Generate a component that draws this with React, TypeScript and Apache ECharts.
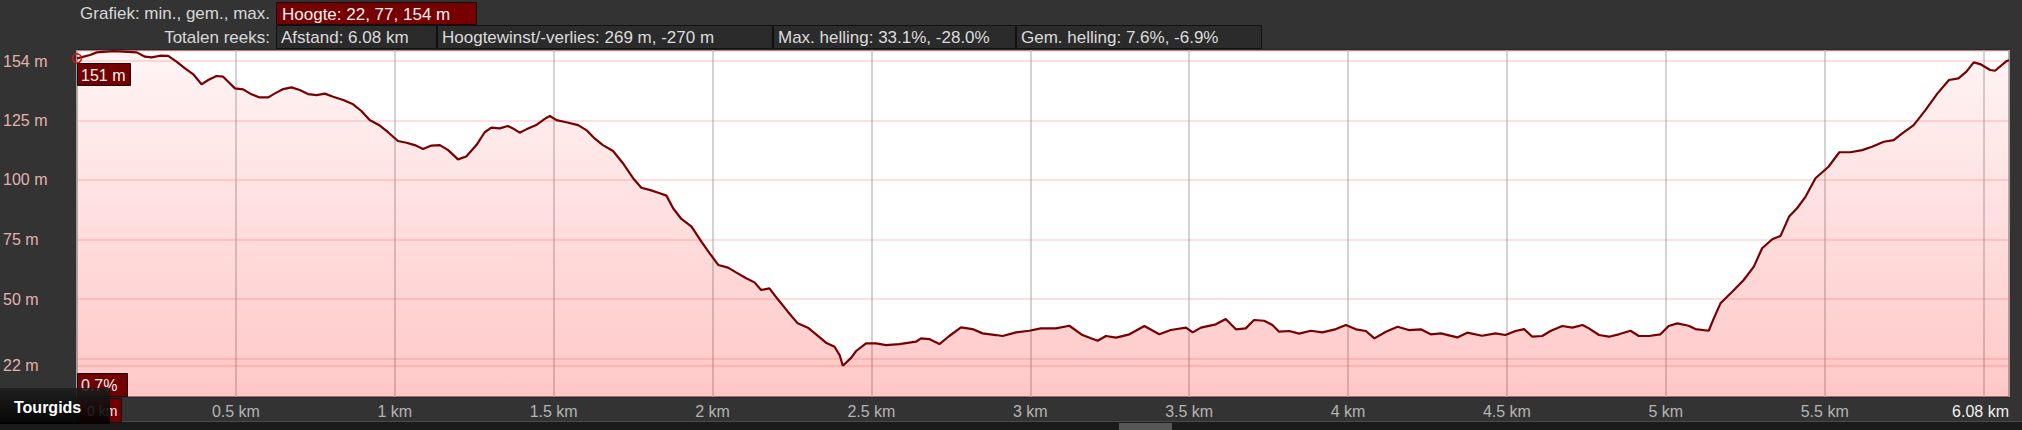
import React, { useEffect, useRef } from 'react';
import * as echarts from 'echarts';

// Distance along the route (km) and elevation (m)
const distKm = [
  0, 0.041, 0.062, 0.114, 0.146, 0.188, 0.214, 0.235, 0.261, 0.287, 0.313, 0.34, 0.366, 0.392, 0.413, 0.439, 0.46, 0.476, 0.497,
  0.523, 0.549, 0.575, 0.602, 0.623, 0.649, 0.675, 0.701, 0.727, 0.754, 0.78, 0.806, 0.838, 0.869, 0.895, 0.921, 0.953, 0.979,
  1.01, 1.037, 1.063, 1.089, 1.115, 1.142, 1.168, 1.199, 1.225, 1.257, 1.283, 1.304, 1.33, 1.356, 1.372, 1.393, 1.414, 1.445,
  1.472, 1.488, 1.509, 1.54, 1.577, 1.603, 1.629, 1.655, 1.687, 1.718, 1.75, 1.776, 1.802, 1.834, 1.855, 1.876, 1.902, 1.934,
  1.965, 1.991, 2.018, 2.049, 2.074, 2.106, 2.132, 2.153, 2.179, 2.205, 2.237, 2.268, 2.3, 2.326, 2.357, 2.384, 2.4, 2.41,
  2.436, 2.452, 2.483, 2.515, 2.546, 2.588, 2.64, 2.656, 2.682, 2.714, 2.745, 2.782, 2.818, 2.85, 2.892, 2.913, 2.955, 2.997,
  3.033, 3.081, 3.123, 3.164, 3.212, 3.238, 3.27, 3.312, 3.359, 3.406, 3.442, 3.49, 3.511, 3.537, 3.584, 3.615, 3.647, 3.678,
  3.704, 3.736, 3.762, 3.783, 3.815, 3.846, 3.883, 3.919, 3.962, 3.993, 4.025, 4.056, 4.083, 4.119, 4.156, 4.191, 4.229, 4.26,
  4.292, 4.344, 4.375, 4.422, 4.464, 4.495, 4.527, 4.554, 4.58, 4.611, 4.637, 4.674, 4.706, 4.738, 4.758, 4.79, 4.821, 4.852,
  4.889, 4.915, 4.947, 4.983, 5.009, 5.036, 5.072, 5.093, 5.135, 5.151, 5.172, 5.209, 5.245, 5.277, 5.303, 5.335, 5.361, 5.388,
  5.413, 5.44, 5.471, 5.512, 5.546, 5.581, 5.618, 5.649, 5.686, 5.717, 5.744, 5.78, 5.817, 5.855, 5.891, 5.921, 5.946, 5.969,
  5.989, 6.021, 6.036, 6.073, 6.08,
];
const elevM = [
  151, 152.4, 153.5, 154, 153.8, 153.5, 151.7, 151.4, 152.1, 152, 149.6, 146.8, 144.3, 140.1, 141.9, 143.6, 143.3, 141.2, 138.4,
  138, 135.9, 134.6, 134.6, 136.3, 138.1, 138.8, 137.7, 136, 135.6, 136.2, 134.9, 133.5, 131.7, 128.9, 125.1, 122.8, 120,
  116.3, 115.6, 114.6, 113, 114.4, 114.6, 112.5, 108.6, 109.8, 114.6, 120, 121.9, 121.6, 122.6, 121.6, 119.8, 121.2, 123,
  125.6, 126.8, 125.1, 124.2, 123, 120.9, 117.4, 114.6, 112.1, 107, 100.7, 96.7, 95.8, 94.4, 93.4, 88.1, 83.6, 80.4,
  74.1, 69.2, 64.3, 63.2, 61.2, 58.7, 57, 53.8, 54.5, 50, 44.7, 39.8, 38, 35.2, 31.7, 30, 26.5, 22,
  25.3, 28.2, 31.4, 31.4, 30.7, 31.1, 32.1, 33.5, 33.2, 31.1, 34.5, 38.1, 37.4, 35.6, 34.9, 34.5, 36, 36.7,
  37.7, 37.7, 38.8, 34.9, 32.5, 34.5, 33.8, 35.2, 38.7, 35.2, 37, 38, 36, 38, 39.4, 41.6, 37.3, 37.7,
  41.2, 40.9, 39.1, 36.3, 36.6, 35.5, 36.7, 36, 37.4, 39.1, 37.3, 36.6, 33.5, 36.3, 38.4, 37, 37.3, 35.2,
  35.6, 33.9, 35.9, 34.6, 35.6, 34.9, 36.6, 37.4, 34.2, 34.5, 36.6, 38.7, 38, 39.1, 37.7, 34.9, 34.2, 35.2,
  36.7, 34.5, 34.5, 35.2, 38.7, 39.8, 38.8, 37.4, 36.7, 41.9, 48.2, 53.1, 58, 63.6, 71.3, 75.1, 76.5, 84.6,
  88.1, 93, 100.7, 105.5, 111.6, 111.6, 112.5, 113.9, 116, 116.7, 119.5, 123, 129.3, 136.3, 141.9, 142.6, 145.4, 149.3,
  148.6, 146.1, 145.8, 149.9, 150.2,
];

// Axis ticks / labels
const xMaxKm = 6.08;
const xLabelValues = [0.5, 1, 1.5, 2, 2.5, 3, 3.5, 4, 4.5, 5, 5.5, 6.08];
const yLabelValues = [22, 50, 75, 100, 125, 154];
const yGridValues = [154, 150, 125, 100, 75, 50, 25, 22];

// Header texts
const headerTitle1 = 'Grafiek: min., gem., max.';
const headerValue1 = 'Hoogte: 22, 77, 154 m';
const headerTitle2 = 'Totalen reeks:';
const headerValues2 = [
  'Afstand: 6.08 km',
  'Hoogtewinst/-verlies: 269 m, -270 m',
  'Max. helling: 33.1%, -28.0%',
  'Gem. helling: 7.6%, -6.9%',
];

// Cursor read-outs
const cursorKm = 0;
const cursorElevLabel = '151 m';
const cursorGradeLabel = '0.7%';
const cursorDistLabel = '0 km';
const tabLabel = 'Tourgids';

export default function App() {
  const ref = useRef<HTMLDivElement>(null);

  useEffect(() => {
    if (!ref.current) return;
    const chart = echarts.init(ref.current, null, { renderer: 'svg' });
    const FONT = '"Liberation Sans", Arial, sans-serif';
    const FS = 16;
    const HFS = 17;

    const boxEdges = [276, 437, 773, 1016, 1262];
    const row2Graphics: any[] = [];
    headerValues2.forEach((t, i) => {
      row2Graphics.push({
        type: 'rect',
        shape: { x: boxEdges[i] + 0.5, y: 25.5, width: boxEdges[i + 1] - boxEdges[i] - 1, height: 23 },
        style: { fill: '#2b2b2b', stroke: '#111', lineWidth: 1 },
        z: 10,
      });
      row2Graphics.push({
        type: 'text',
        x: boxEdges[i] + 5,
        y: 37.5,
        style: { text: t, fill: '#dcdcdc', font: `${HFS}px ${FONT}`, verticalAlign: 'middle' },
        z: 11,
      });
    });

    const redBox = (x: number, y: number, w: number, h: number, text: string, tx = 4, fs = FS) => [
      {
        type: 'rect',
        shape: { x: x + 0.5, y: y + 0.5, width: w, height: h },
        style: { fill: '#720000', stroke: '#111', lineWidth: 1 },
        z: 20,
      },
      {
        type: 'text',
        x: x + tx,
        y: y + h / 2 + 1,
        style: { text, fill: '#f0f0f0', font: `${fs}px ${FONT}`, verticalAlign: 'middle' },
        z: 21,
      },
    ];

    chart.setOption({
      animation: false,
      backgroundColor: '#333333',
      grid: {
        left: 77,
        right: 13,
        top: 50,
        bottom: 33,
        show: true,
        backgroundColor: '#ffffff',
        borderColor: '#1d1d1d',
        borderWidth: 1,
      },
      xAxis: {
        type: 'value',
        min: 0,
        max: xMaxKm,
        interval: 0.5,
        axisLine: { show: false },
        axisTick: { show: false },
        splitLine: { show: true, lineStyle: { color: '#c4c4c4', width: 1.5 } },
        axisLabel: {
          customValues: xLabelValues,
          alignMaxLabel: 'right',
          margin: 6,
          color: '#b4b4b4',
          fontSize: FS,
          fontFamily: FONT,
          formatter: (v: number) => (v === xMaxKm ? `{end|${v} km}` : `${v} km`),
          rich: { end: { color: '#f0f0f0', fontSize: FS, fontFamily: FONT } },
        },
      },
      yAxis: {
        type: 'value',
        min: 8.9,
        max: 154.5,
        axisLine: { show: false },
        axisTick: { show: false },
        splitLine: { show: false },
        axisLabel: {
          customValues: yLabelValues,
          align: 'left',
          margin: 74,
          color: '#e2b2b2',
          fontSize: FS,
          fontFamily: FONT,
          formatter: (v: number) => (v === 154 ? `{mx|${v} m}` : `${v} m`),
          rich: { mx: { color: '#e2b2b2', fontSize: FS, fontFamily: FONT, padding: [20, 0, 0, 0] } },
        },
      },
      series: [
        {
          type: 'line',
          data: distKm.map((d, i) => [d, elevM[i]]),
          showSymbol: false,
          symbol: 'none',
          smooth: false,
          lineStyle: { color: '#780000', width: 2.2 },
          areaStyle: {
            color: new echarts.graphic.LinearGradient(0, 0, 0, 1, [
              { offset: 0, color: 'rgba(255,0,0,0.06)' },
              { offset: 1, color: 'rgba(255,0,0,0.31)' },
            ]),
          },
          markLine: {
            z: 1,
            silent: true,
            symbol: 'none',
            label: { show: false },
            lineStyle: { color: 'rgba(255,110,110,0.22)', width: 2, type: 'solid' },
            data: yGridValues.map((v) => ({ yAxis: v })),
          },
          markPoint: {
            silent: true,
            symbol: 'circle',
            symbolSize: 9,
            itemStyle: { color: 'rgba(0,0,0,0)', borderColor: '#e01010', borderWidth: 1.5 },
            label: { show: false },
            data: [{ coord: [cursorKm, elevM[0]] }],
          },
        },
      ],
      graphic: [
        {
          type: 'text',
          x: 270,
          y: 13.5,
          style: { text: headerTitle1, fill: '#d8d8d8', font: `${HFS}px ${FONT}`, align: 'right', verticalAlign: 'middle' },
          z: 11,
        },
        {
          type: 'rect',
          shape: { x: 276.5, y: 2.5, width: 200, height: 22 },
          style: { fill: '#760000', stroke: '#111', lineWidth: 1 },
          z: 10,
        },
        {
          type: 'text',
          x: 282,
          y: 14,
          style: { text: headerValue1, fill: '#f0f0f0', font: `${HFS}px ${FONT}`, verticalAlign: 'middle' },
          z: 11,
        },
        {
          type: 'text',
          x: 270,
          y: 37.5,
          style: { text: headerTitle2, fill: '#d8d8d8', font: `${HFS}px ${FONT}`, align: 'right', verticalAlign: 'middle' },
          z: 11,
        },
        ...row2Graphics,
        ...redBox(77, 63, 53, 22, cursorElevLabel),
        ...redBox(77, 373, 50, 23, cursorGradeLabel),
        ...redBox(77, 398, 44, 24, cursorDistLabel, 10, 14),
        {
          type: 'rect',
          shape: { x: 0, y: 422, width: 2022, height: 8 },
          style: { fill: '#1b1b1b' },
          z: 5,
        },
        {
          type: 'line',
          shape: { x1: 0, y1: 421.5, x2: 2022, y2: 421.5 },
          style: { stroke: '#4a4a4a', lineWidth: 1 },
          z: 6,
        },
        {
          type: 'rect',
          shape: { x: 1119, y: 423, width: 53, height: 7 },
          style: { fill: '#575757' },
          z: 6,
        },
        {
          type: 'rect',
          shape: { x: 0, y: 388, width: 110, height: 36 },
          style: {
            fill: new echarts.graphic.LinearGradient(0, 0, 0, 1, [
              { offset: 0, color: 'rgba(28,28,28,0.88)' },
              { offset: 1, color: 'rgba(0,0,0,0.9)' },
            ]),
          },
          z: 30,
        },
        {
          type: 'text',
          x: 14,
          y: 407,
          style: { text: tabLabel, fill: '#ffffff', font: `bold 16px ${FONT}`, verticalAlign: 'middle' },
          z: 31,
        },
      ],
    });

    return () => chart.dispose();
  }, []);

  return (
    <div
      ref={ref}
      style={{ position: 'fixed', left: 0, top: 0, width: 2022, height: 430, background: '#333333' }}
    />
  );
}
